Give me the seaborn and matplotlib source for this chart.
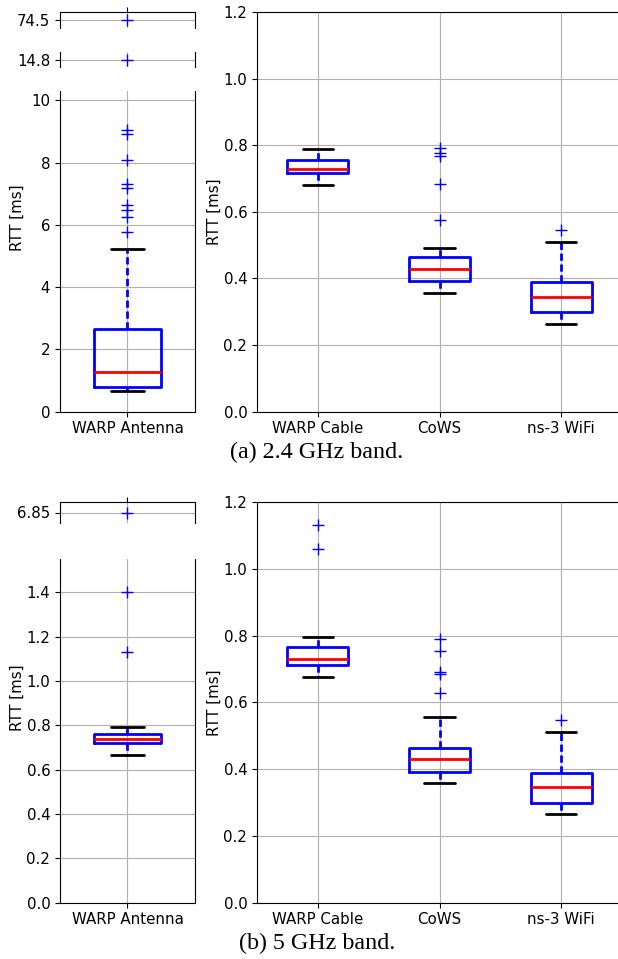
import pandas as pd
import seaborn as sns
import matplotlib.pyplot as plt

# Box stats: [low whisker, Q1, median, Q3, high whisker], plus outliers
setups = ["WARP Cable", "CoWS", "ns-3 WiFi"]

# (a) 2.4 GHz band
ant24_box = [0.67, 0.78, 1.28, 2.65, 5.22]
ant24_fliers = [5.78, 6.26, 6.47, 6.63, 7.17, 7.30, 8.07, 8.91, 9.04, 14.8, 74.5]
cable24_box = [0.680, 0.718, 0.728, 0.755, 0.788]
cable24_fliers = []
cows24_box = [0.356, 0.391, 0.428, 0.463, 0.490]
cows24_fliers = [0.576, 0.683, 0.767, 0.778, 0.793]
wifi24_box = [0.263, 0.299, 0.344, 0.388, 0.509]
wifi24_fliers = [0.546]

# (b) 5 GHz band
ant5_box = [0.667, 0.720, 0.738, 0.761, 0.791]
ant5_fliers = [1.13, 1.40, 6.85]
cable5_box = [0.676, 0.711, 0.729, 0.767, 0.796]
cable5_fliers = [1.058, 1.130]
cows5_box = [0.357, 0.392, 0.429, 0.464, 0.556]
cows5_fliers = [0.628, 0.686, 0.692, 0.753, 0.791]
wifi5_box = [0.265, 0.300, 0.345, 0.389, 0.510]
wifi5_fliers = [0.548]


def expand(box, fliers):
    # sample whose quartiles / whiskers come out exactly as the read stats
    lo, q1, med, q3, hi = box
    m = len(fliers) + 1
    return [lo] + [q1] * m + [med] * m + [q3] * m + [hi] + list(fliers)


def frame(names, boxes, fliers):
    rows = []
    for name, b, f in zip(names, boxes, fliers):
        rows += [(name, v) for v in expand(b, f)]
    return pd.DataFrame(rows, columns=["setup", "rtt"])


sns.set_style("whitegrid", {"axes.edgecolor": "black", "grid.color": "#b0b0b0",
                            "xtick.bottom": True, "ytick.left": True,
                            "xtick.color": "black", "ytick.color": "black",
                            "text.color": "black"})
plt.rcParams["font.family"] = ["DejaVu Sans"]
plt.rcParams["xtick.labelsize"] = 10.8
plt.rcParams["ytick.labelsize"] = 10.8

box_kw = dict(
    width=0.5, fill=False, color="blue", linecolor="blue", linewidth=2, whis=1.5,
    boxprops=dict(color="blue", linewidth=2),
    medianprops=dict(color="red", linewidth=2),
    whiskerprops=dict(color="blue", linestyle=(0, (2.6, 1.3)), linewidth=2),
    capprops=dict(color="black", linewidth=2),
    flierprops=dict(marker="+", markeredgecolor="blue", markersize=8, markeredgewidth=1),
)

W, H = 618, 959
fig = plt.figure(figsize=(W / 100, H / 100), dpi=100)


def axes_px(x0, y0, x1, y1):
    return fig.add_axes([x0 / W, 1 - y1 / H, (x1 - x0) / W, (y1 - y0) / H])


def draw(ax, df, order):
    sns.boxplot(data=df, x="setup", y="rtt", order=order, ax=ax, **box_kw)
    ax.grid(True)
    ax.set_xlabel("")
    ax.set_ylabel("")


def panel(top, ant_box, ant_fliers, breaks, main_ylim, main_ticks, label_y,
          right_boxes, right_fliers, caption):
    ant = frame(["WARP Antenna"], [ant_box], [ant_fliers])
    # broken axis segments holding the far outliers
    for i, (y0, y1, val, lab) in enumerate(breaks):
        ax = axes_px(60, top + y0, 195, top + y1)
        draw(ax, ant, ["WARP Antenna"])
        ax.set_ylim(val - 1, val + 1)
        ax.set_yticks([val])
        ax.set_yticklabels([lab])
        ax.spines["bottom"].set_visible(False)
        if i > 0:
            ax.spines["top"].set_visible(False)
        ax.tick_params(axis="x", bottom=False, labelbottom=False, top=(i == 0))
    y0, y1 = main_ylim[2], main_ylim[3]
    ax = axes_px(60, top + y0, 195, top + y1)
    draw(ax, ant, ["WARP Antenna"])
    ax.set_ylim(main_ylim[0], main_ylim[1])
    ax.set_yticks(main_ticks)
    ax.spines["top"].set_visible(False)
    fig.text(17 / W, 1 - label_y / H, "RTT [ms]",
             rotation=90, ha="center", va="center", fontsize=10.8)

    ax = axes_px(257, top + 0, 622, top + y1)
    draw(ax, frame(setups, right_boxes, right_fliers), setups)
    ax.set_ylim(0, 1.2)
    ax.set_yticks([0, 0.2, 0.4, 0.6, 0.8, 1.0, 1.2])
    ax.spines["right"].set_visible(False)
    fig.text(214 / W, 1 - (top + y1 / 2) / H, "RTT [ms]",
             rotation=90, ha="center", va="center", fontsize=10.8)

    fig.text(317 / W, 1 - (top + y1 + 41) / H, caption, ha="center", va="center",
             family="Liberation Serif", fontsize=17.3)


# (a) top of the frame at y=12
panel(12, ant24_box, ant24_fliers,
      [(0, 16, 74.5, "74.5"), (40, 55, 14.8, "14.8")],
      (0, 10.3, 79, 399.7), [0, 2, 4, 6, 8, 10], 218,
      [cable24_box, cows24_box, wifi24_box],
      [cable24_fliers, cows24_fliers, wifi24_fliers],
      "(a) 2.4 GHz band.")

# (b) top of the frame at y=502
panel(502, ant5_box, ant5_fliers,
      [(0, 21, 6.85, "6.85")],
      (0, 1.55, 57, 400.7), [0, 0.2, 0.4, 0.6, 0.8, 1.0, 1.2, 1.4], 698,
      [cable5_box, cows5_box, wifi5_box],
      [cable5_fliers, cows5_fliers, wifi5_fliers],
      "(b) 5 GHz band.")

plt.savefig("out.png", dpi=100)
